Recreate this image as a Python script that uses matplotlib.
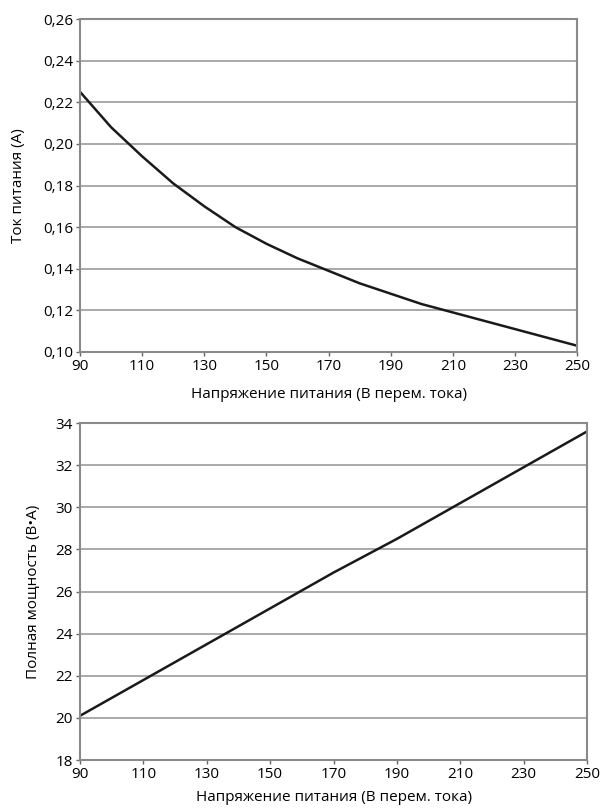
import numpy as np
import matplotlib
matplotlib.use('Agg')
import matplotlib.pyplot as plt
from matplotlib.ticker import FuncFormatter

plt.rcParams['font.family'] = ['Open Sans', 'DejaVu Sans']

# supply voltage (V AC)
voltage = [90, 100, 110, 120, 130, 140, 150, 160, 170, 180, 190, 200, 210, 220, 230, 240, 250]
# supply current (A)
current = [0.225, 0.208, 0.194, 0.181, 0.170, 0.160, 0.152, 0.145, 0.139, 0.133, 0.128, 0.123, 0.119, 0.115, 0.111, 0.107, 0.103]

volt_p = [90, 110, 130, 150, 170, 190, 210, 230, 250]
# apparent power (VA)
power = [20.1, 21.8, 23.5, 25.2, 26.9, 28.5, 30.2, 31.9, 33.6]

xticks = [90, 110, 130, 150, 170, 190, 210, 230, 250]
yticks_i = [0.10, 0.12, 0.14, 0.16, 0.18, 0.20, 0.22, 0.24, 0.26]
yticks_p = [18, 20, 22, 24, 26, 28, 30, 32, 34]

xlabel = 'Напряжение питания (В перем. тока)'

grid_c = '#a3a3a3'
spine_c = '#8a8a8a'

fig = plt.figure(figsize=(6.02, 8.08), dpi=100)
ax1 = fig.add_axes([0.133, 0.5644, 0.8256, 0.412])
ax2 = fig.add_axes([0.133, 0.0594, 0.842, 0.417])

def style(ax):
    for s in ax.spines.values():
        s.set_color(spine_c)
        s.set_linewidth(1.5)
    ax.grid(axis='y', color=grid_c, lw=1.3)
    ax.set_axisbelow(True)
    ax.tick_params(axis='both', length=3, width=1, color='#666666',
                   labelsize=11, pad=2)
    ax.set_xticks(xticks)
    ax.set_xlim(90, 250)

ax1.plot(voltage, current, color='#1a1a1a', lw=1.8, solid_joinstyle='round')
style(ax1)
ax1.set_yticks(yticks_i)
ax1.set_ylim(0.10, 0.26)
ax1.yaxis.set_major_formatter(FuncFormatter(lambda v, p: f'{v:.2f}'.replace('.', ',')))
ax1.set_ylabel('Ток питания (А)', fontsize=11)
ax1.yaxis.set_label_coords(-0.109, 0.5)
ax1.set_xlabel(xlabel, fontsize=11)
ax1.xaxis.set_label_coords(0.5, -0.105)

ax2.plot(volt_p, power, color='#1a1a1a', lw=1.8, solid_joinstyle='round')
style(ax2)
ax2.set_yticks(yticks_p)
ax2.set_ylim(18, 34)
ax2.set_ylabel('Полная мощность (В•А)', fontsize=11)
ax2.yaxis.set_label_coords(-0.077, 0.5)
ax2.set_xlabel(xlabel, fontsize=11)
ax2.xaxis.set_label_coords(0.5, -0.089)

fig.savefig('out.png', dpi=100)
